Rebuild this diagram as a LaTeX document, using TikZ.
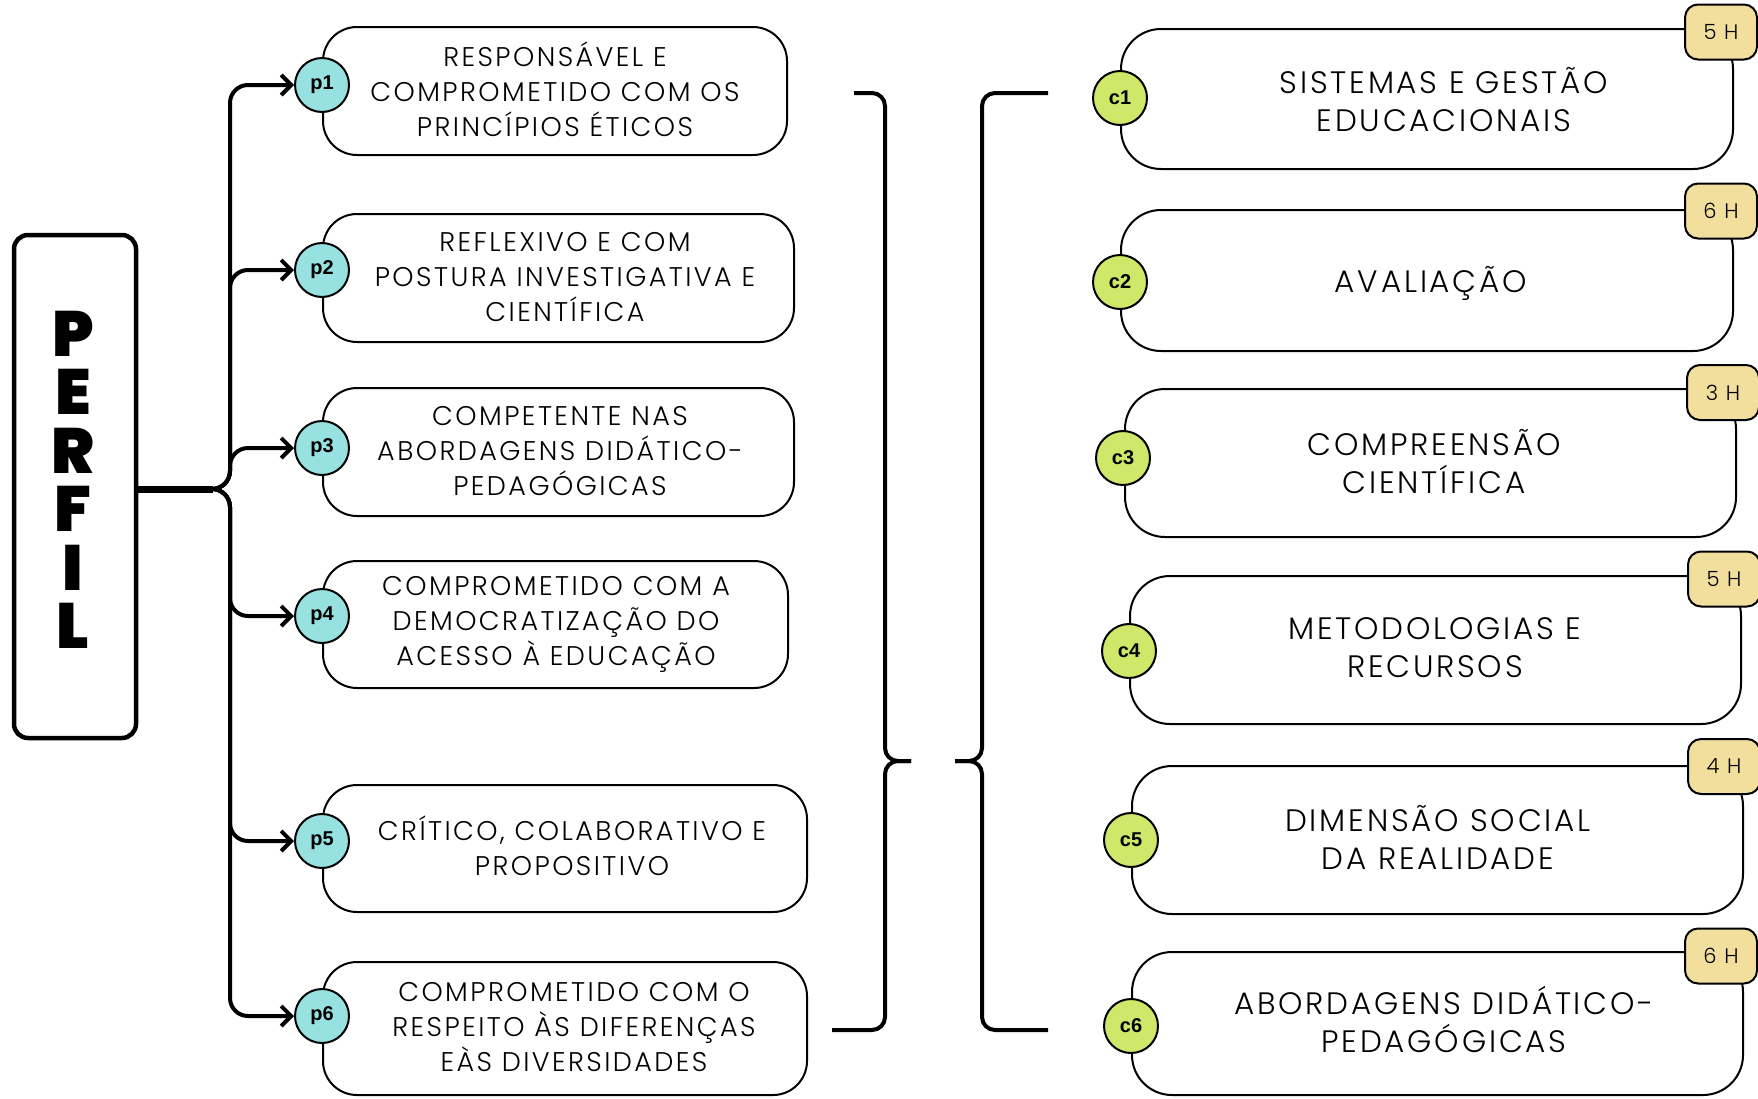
\documentclass[tikz,border=0pt]{standalone}
\usepackage{fontspec}
\usetikzlibrary{arrows.meta}
\setmainfont{Poppins}
\newfontfamily\lightf{Poppins Light}[LetterSpace=9]
\newfontfamily\heavyf{Poppins Black}
\newfontfamily\labf{Liberation Sans}
\definecolor{pcyan}{HTML}{98E1E1}
\definecolor{clime}{HTML}{CFE86A}
\definecolor{tanb}{HTML}{F2DF9E}
\tikzset{
  pbox/.style={draw, line width=2pt, rounded corners=34pt, inner sep=0pt},
  cbox/.style={draw, line width=2pt, rounded corners=40pt, inner sep=0pt},
  dotbase/.style={circle, draw, line width=2pt, minimum size=54pt, inner sep=0pt,
    font=\labf\bfseries\fontsize{20}{20}\selectfont},
  pdot/.style={dotbase, fill=pcyan},
  cdot/.style={dotbase, fill=clime},
  badge/.style={draw, line width=2pt, fill=tanb, rounded corners=13pt,
    minimum width=72pt, minimum height=55pt, inner sep=0pt,
    font=\lightf\fontsize{21}{21}\selectfont},
  ptxt/.style={align=center, inner sep=0pt, font=\lightf\fontsize{27}{35}\selectfont,
    execute at begin node=\strut, execute at end node=\strut},
  ctxt/.style={align=center, inner sep=0pt, font=\lightf\fontsize{31}{38}\selectfont,
    execute at begin node=\strut, execute at end node=\strut},
  branch/.style={line width=4pt, rounded corners=18pt,
    -{Straight Barb[length=10pt,width=20pt]}},
  bracepath/.style={line width=4pt, rounded corners=13pt},
  perfword/.style={inner sep=0pt, align=center, font=\heavyf\fontsize{64}{58.5}\selectfont}
}
\begin{document}
\begin{tikzpicture}[x=1pt,y=-1pt]
\useasboundingbox (0,0) rectangle (1758,1098);

% PERFIL
\node[draw, line width=4.5pt, rounded corners=14pt, minimum width=122pt,
      minimum height=503pt, inner sep=0pt] (perfil) at (75,486.5) {};
\node[perfword] (perfilT) at (73,480) {P\\E\\R\\F\\I\\L};

% p boxes
\node[pbox, minimum width=464pt, minimum height=128pt] (p1b) at (555,91) {};
\node[pbox, minimum width=471pt, minimum height=128pt] (p2b) at (558.5,278) {};
\node[pbox, minimum width=471pt, minimum height=128pt] (p3b) at (558.5,452) {};
\node[pbox, minimum width=465pt, minimum height=127pt] (p4b) at (555.5,624.5) {};
\node[pbox, minimum width=484pt, minimum height=127pt] (p5b) at (565,848.5) {};
\node[pbox, minimum width=484pt, minimum height=133pt] (p6b) at (565,1028.5) {};

\node[ptxt] (p1t) at (555,94.5) {RESPONSÁVEL E\\COMPROMETIDO COM OS\\PRINCÍPIOS ÉTICOS};
\node[ptxt] (p2t) at (565,282.5) {REFLEXIVO E COM\\POSTURA INVESTIGATIVA E\\CIENTÍFICA};
\node[ptxt] (p3t) at (560,456.5) {COMPETENTE NAS\\ABORDAGENS DIDÁTICO-\\PEDAGÓGICAS};
\node[ptxt] (p4t) at (556,626) {COMPROMETIDO COM A\\DEMOCRATIZAÇÃO DO\\ACESSO À EDUCAÇÃO};
\node[ptxt] (p5t) at (572,851) {CRÍTICO, COLABORATIVO E\\PROPOSITIVO};
\node[ptxt] (p6t) at (574,1032) {COMPROMETIDO COM O\\RESPEITO ÀS DIFERENÇAS\\EÀS DIVERSIDADES};

% trunk and branches
\coordinate (J) at (213,489);
\coordinate (V) at (230,489);
\draw[line width=7pt] (perfil.east |- J) -- (J);

\node[pdot] (p1c) at (322,85) {p1};
\node[pdot] (p2c) at (322,270) {p2};
\node[pdot] (p3c) at (322,448) {p3};
\node[pdot] (p4c) at (322,616) {p4};
\node[pdot] (p5c) at (322,841) {p5};
\node[pdot] (p6c) at (322,1016) {p6};

\foreach \k in {1,...,6}
  \draw[branch] (J) -- (V) |- (p\k c);

% braces
\draw[bracepath] (854,93) -| (885,761) -- (911,761);
\draw[bracepath] (911,761) -- (885,761) |- (832,1030);
\draw[bracepath] (1048,93) -| (982,761) -- (955,761);
\draw[bracepath] (955,761) -- (982,761) |- (1048,1030);

% c boxes
\node[cbox, minimum width=612pt, minimum height=140pt] (c1b) at (1427,99) {};
\node[cbox, minimum width=612pt, minimum height=141pt] (c2b) at (1427,280.5) {};
\node[cbox, minimum width=611pt, minimum height=148pt] (c3b) at (1430.5,463) {};
\node[cbox, minimum width=611pt, minimum height=148pt] (c4b) at (1435.5,650) {};
\node[cbox, minimum width=611pt, minimum height=148pt] (c5b) at (1437.5,840) {};
\node[cbox, minimum width=611pt, minimum height=143pt] (c6b) at (1437.5,1023.5) {};

\node[ctxt] (c1t) at (1444,105) {SISTEMAS E GESTÃO\\EDUCACIONAIS};
\node[ctxt] (c2t) at (1431,285) {AVALIAÇÃO};
\node[ctxt] (c3t) at (1434,467) {COMPREENSÃO\\CIENTÍFICA};
\node[ctxt] (c4t) at (1435,653) {METODOLOGIAS E\\RECURSOS};
\node[ctxt] (c5t) at (1438,843) {DIMENSÃO SOCIAL\\DA REALIDADE};
\node[ctxt] (c6t) at (1444,1025.5) {ABORDAGENS DIDÁTICO-\\PEDAGÓGICAS};

\node[cdot] (c1c) at (1120,98) {c1};
\node[cdot] (c2c) at (1120,282) {c2};
\node[cdot] (c3c) at (1123,458) {c3};
\node[cdot] (c4c) at (1129,651) {c4};
\node[cdot] (c5c) at (1131,840) {c5};
\node[cdot] (c6c) at (1131,1026) {c6};

\node[badge] (h1) at (1721,32) {5 H};
\node[badge] (h2) at (1721,211) {6 H};
\node[badge] (h3) at (1723,392.5) {3 H};
\node[badge] (h4) at (1724,579) {5 H};
\node[badge] (h5) at (1724,766.5) {4 H};
\node[badge] (h6) at (1721,956) {6 H};
\end{tikzpicture}
\end{document}
